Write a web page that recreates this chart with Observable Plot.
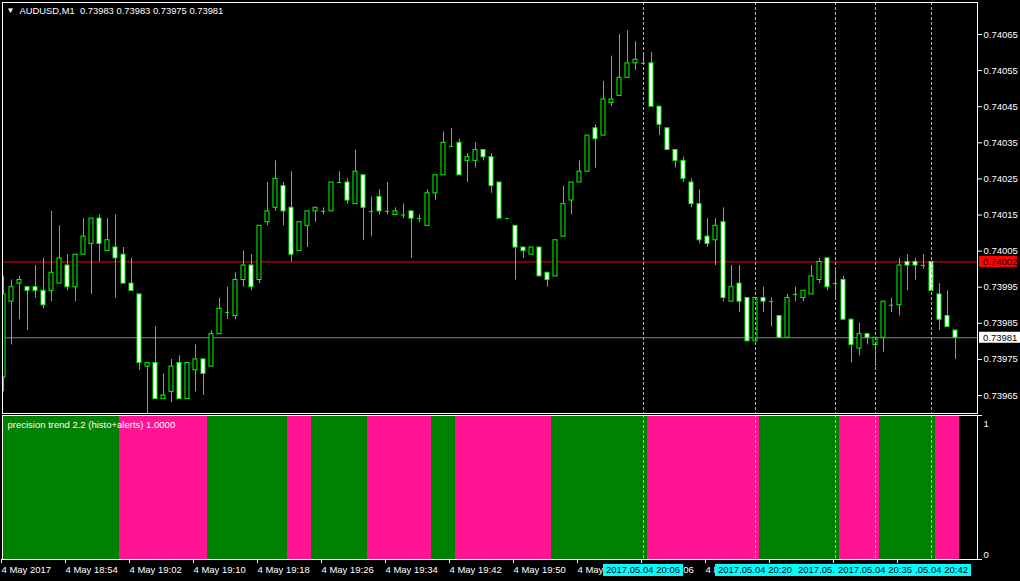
<!DOCTYPE html>
<html><head><meta charset="utf-8">
<script src="https://cdn.jsdelivr.net/npm/d3@7"></script>
<script src="https://cdn.jsdelivr.net/npm/@observablehq/plot@0.6"></script>
<style>
html,body{margin:0;padding:0;background:#000;}
#root{position:relative;width:1020px;height:581px;background:#000;overflow:hidden;}
#root svg{position:absolute;left:0;display:block;}
</style></head><body><div id="root"></div>
<script>
// ---------- data ----------
const symbol = "AUDUSD", timeframe = "M1";
const firstBar = "18:46";           // M1 bars, 4 May 2017
const open = [
0.73970,0.73991,0.73996,0.73995,0.73995,0.73994,0.73994,0.73996,0.74001,0.73995,
0.74004,0.74007,0.74014,0.74005,0.74006,0.74004,0.73996,0.73993,0.73973,0.73974,
0.73964,0.73966,0.73974,0.73964,0.73972,0.73975,0.73973,0.73982,0.73988,0.73987,
0.73997,0.74001,0.73997,0.74013,0.74017,0.74023,0.74017,0.74005,0.74012,0.74016,
0.74016,0.74016,0.74024,0.74024,0.74018,0.74026,0.74016,0.74020,0.74016,0.74015,
0.74015,0.74016,0.74014,0.74012,0.74021,0.74026,0.74034,0.74035,0.74030,0.74030,
0.74033,0.74031,0.74024,0.74014,0.74012,0.74006,0.74004,0.74006,0.73999,0.73998,
0.74009,0.74019,0.74024,0.74027,0.74039,0.74037,0.74046,0.74048,0.74053,0.74057,
0.74057,0.74057,0.74045,0.74039,0.74033,0.74030,0.74024,0.74018,0.74009,0.74008,
0.74013,0.73991,0.73996,0.73992,0.73980,0.73992,0.73991,0.73987,0.73981,0.73993,
0.73992,0.73993,0.73997,0.74003,0.73996,0.73997,0.73986,0.73978,0.73982,0.73979,
0.73981,0.73990,0.73990,0.74002,0.74002,0.74001,0.74002,0.73993,0.73987,0.73983];
const high = [
0.73998,0.73997,0.73998,0.73995,0.74001,0.74003,0.74016,0.74012,0.74004,0.74004,
0.74014,0.74014,0.74015,0.74014,0.74015,0.74006,0.74003,0.73993,0.73974,0.73984,
0.73971,0.73975,0.73976,0.73974,0.73979,0.73975,0.73983,0.73992,0.73995,0.73999,
0.74005,0.74004,0.74012,0.74024,0.74030,0.74024,0.74027,0.74013,0.74016,0.74017,
0.74017,0.74024,0.74027,0.74025,0.74033,0.74026,0.74020,0.74022,0.74024,0.74017,
0.74018,0.74016,0.74015,0.74022,0.74026,0.74038,0.74039,0.74036,0.74032,0.74035,
0.74033,0.74032,0.74024,0.74014,0.74012,0.74006,0.74006,0.74006,0.73999,0.74008,
0.74023,0.74024,0.74030,0.74037,0.74040,0.74052,0.74059,0.74065,0.74066,0.74063,
0.74060,0.74060,0.74045,0.74039,0.74033,0.74031,0.74025,0.74022,0.74014,0.74014,
0.74017,0.74001,0.74001,0.73992,0.73992,0.73995,0.73992,0.73987,0.73993,0.73995,
0.73994,0.74001,0.74003,0.74003,0.74000,0.73998,0.73986,0.73985,0.73982,0.73981,
0.73991,0.73992,0.74003,0.74004,0.74003,0.74004,0.74002,0.73996,0.73994,0.73983];
const low = [
0.73966,0.73979,0.73986,0.73983,0.73992,0.73989,0.73991,0.73996,0.73994,0.73991,
0.74004,0.73993,0.74002,0.74005,0.73992,0.73996,0.73994,0.73972,0.73960,0.73964,
0.73964,0.73963,0.73964,0.73964,0.73966,0.73965,0.73973,0.73982,0.73986,0.73986,
0.73995,0.73994,0.73996,0.74012,0.74016,0.74012,0.74002,0.74005,0.74006,0.74013,
0.74015,0.74016,0.74024,0.74018,0.74018,0.74008,0.74009,0.74015,0.74015,0.74015,
0.74014,0.74003,0.74013,0.74012,0.74019,0.74026,0.74034,0.74026,0.74024,0.74028,
0.74030,0.74021,0.74014,0.74014,0.73997,0.74003,0.74004,0.73998,0.73995,0.73998,
0.74009,0.74015,0.74024,0.74027,0.74028,0.74037,0.74045,0.74048,0.74053,0.74055,
0.74057,0.74045,0.74037,0.74033,0.74028,0.74024,0.74017,0.74007,0.74006,0.74001,
0.73991,0.73991,0.73988,0.73980,0.73980,0.73988,0.73984,0.73981,0.73981,0.73991,
0.73991,0.73993,0.73996,0.73994,0.73992,0.73986,0.73974,0.73976,0.73979,0.73973,
0.73977,0.73988,0.73987,0.73994,0.73997,0.74000,0.73994,0.73983,0.73984,0.73975];
const close = [
0.73993,0.73995,0.73997,0.73994,0.73994,0.73990,0.73999,0.74003,0.73995,0.74004,
0.74009,0.74014,0.74007,0.74008,0.74003,0.73996,0.73994,0.73974,0.73974,0.73964,
0.73965,0.73973,0.73964,0.73974,0.73975,0.73971,0.73982,0.73989,0.73988,0.73997,
0.74001,0.73995,0.74012,0.74016,0.74025,0.74016,0.74004,0.74013,0.74016,0.74017,
0.74016,0.74024,0.74024,0.74019,0.74027,0.74017,0.74016,0.74016,0.74016,0.74016,
0.74015,0.74014,0.74014,0.74021,0.74026,0.74035,0.74034,0.74026,0.74031,0.74033,
0.74031,0.74023,0.74014,0.74014,0.74006,0.74005,0.74006,0.73998,0.73997,0.74008,
0.74018,0.74024,0.74027,0.74037,0.74036,0.74047,0.74047,0.74053,0.74057,0.74058,
0.74057,0.74045,0.74040,0.74033,0.74030,0.74025,0.74018,0.74008,0.74007,0.74012,
0.73992,0.73995,0.73991,0.73980,0.73992,0.73991,0.73991,0.73981,0.73992,0.73993,
0.73994,0.73998,0.74002,0.73995,0.73996,0.73986,0.73979,0.73982,0.73981,0.73981,
0.73991,0.73990,0.74001,0.74001,0.74001,0.74001,0.73994,0.73986,0.73984,0.73981];
// precision trend histogram: 1 = up (green), -1 = down (pink)
const trend = [
 1, 1, 1, 1, 1, 1, 1, 1, 1, 1,
 1, 1, 1, 1, 1,-1,-1,-1,-1,-1,
-1,-1,-1,-1,-1,-1, 1, 1, 1, 1,
 1, 1, 1, 1, 1, 1,-1,-1,-1, 1,
 1, 1, 1, 1, 1, 1,-1,-1,-1,-1,
-1,-1,-1,-1, 1, 1, 1,-1,-1,-1,
-1,-1,-1,-1,-1,-1,-1,-1,-1, 1,
 1, 1, 1, 1, 1, 1, 1, 1, 1, 1,
 1,-1,-1,-1,-1,-1,-1,-1,-1,-1,
-1,-1,-1,-1,-1, 1, 1, 1, 1, 1,
 1, 1, 1, 1, 1,-1,-1,-1,-1,-1,
 1, 1, 1, 1, 1, 1, 1,-1,-1,-1];
const indicatorName = "precision trend 2.2 (histo+alerts)";
const indicatorValue = 1.0;
const askPrice = 0.74002, bidPrice = 0.73981;
const priceTicks = [0.73965,0.73975,0.73985,0.73995,0.74005,0.74015,0.74025,0.74035,0.74045,0.74055,0.74065];
const axisTimes = ["18:46","18:54","19:02","19:10","19:18","19:26","19:34","19:42","19:50","19:58","20:06","20:14","20:22","20:30","20:38"];
// labels of the last three ticks are fully hidden behind the cursor labels in the chart
const axisLabels = ["4 May 2017","4 May 18:54","4 May 19:02","4 May 19:10","4 May 19:18","4 May 19:26","4 May 19:34","4 May 19:42","4 May 19:50","4 May 19:58","4 May 20:06","4 May 20:14","","",""];
const cursorTimes = ["20:06","20:20","20:30","20:42","20:35"];
const cursorLabels = ["2017.05.04 20:06","2017.05.04 20:20","2017.05.04 20:30","2017.05.04 20:42","2017.05.04 20:35"];

// ---------- build ----------
const MIN = 60000;
const at = hm => { const [h, m] = hm.split(":").map(Number); return new Date(Date.UTC(2017, 4, 4, h, m)); };
const t0 = +at(firstBar);
const bars = open.map((o, i) => ({t: new Date(t0 + i * MIN), o, h: high[i], l: low[i], c: close[i], trend: trend[i], v: indicatorValue}));
const xDomain = [new Date(t0 - 0.125 * MIN), new Date(t0 + 121.75 * MIN)];
const half = 0.25 * MIN;
const cursorDates = cursorTimes.map(at);
const axisDates = axisTimes.map(at);
const labelOf = new Map(axisDates.map((d, i) => [+d, axisLabels[i]]));
const fmt5 = d3.format(".5f");
const font = "'Liberation Sans', Arial, sans-serif";
const LIME = "#00ff00", CY = "#33e6e6";
const dash = "3,2";
const style = {background: "#000", color: "#fff", fontFamily: font, fontSize: "9.5px"};

function priceTags(index, scales, values, dims) {
  const g = d3.create("svg:g").attr("text-anchor", "start");
  const x0 = dims.width - dims.marginRight + 2;
  for (const [p, bg, w] of [[askPrice, "#ff0000", 38], [bidPrice, "#ffffff", 41]]) {
    const y = scales.y(p);
    g.append("rect").attr("x", x0).attr("y", y - 5.5).attr("width", w).attr("height", 11).attr("fill", bg);
    g.append("text").attr("x", x0 + 4).attr("y", y).attr("dy", "0.35em").attr("text-anchor", "start").attr("fill", "#000").text(fmt5(p));
  }
  return g.node();
}
function cursorTags(index, scales, values, dims) {
  const g = d3.create("svg:g");
  const yTop = dims.height - dims.marginBottom + 5;
  cursorDates.forEach((d, i) => {
    const xc = scales.x(d);
    g.append("rect").attr("x", xc - 40).attr("y", yTop).attr("width", 80).attr("height", 12).attr("fill", "#00ffff");
    g.append("text").attr("x", xc).attr("y", yTop + 6).attr("dy", "0.35em").attr("text-anchor", "middle").attr("fill", "#000").text(cursorLabels[i]);
  });
  return g.node();
}

const title = `${symbol},${timeframe}  ${fmt5(open.at(-1))} ${fmt5(high.at(-1))} ${fmt5(low.at(-1))} ${fmt5(close.at(-1))}`;

const main = Plot.plot({
  width: 1020, height: 415, marginLeft: 2, marginRight: 43, marginTop: 2, marginBottom: 2,
  style,
  x: {type: "utc", domain: xDomain, axis: null},
  y: {domain: [0.7396002, 0.7407386], axis: null},
  marks: [
    Plot.ruleY([askPrice], {stroke: "#ff0000"}),
    Plot.ruleY([bidPrice], {stroke: "#778899"}),
    Plot.ruleX(bars, {x: "t", y1: "l", y2: "h", stroke: LIME, clip: true}),
    Plot.rect(bars.filter(d => d.c > d.o), {x1: d => new Date(+d.t - half), x2: d => new Date(+d.t + half), y1: "o", y2: "c", fill: "#000", stroke: LIME, clip: true}),
    Plot.rect(bars.filter(d => d.c < d.o), {x1: d => new Date(+d.t - half), x2: d => new Date(+d.t + half), y1: "o", y2: "c", fill: "#fff", stroke: LIME, clip: true}),
    Plot.ruleY(bars.filter(d => d.c === d.o), {y: "o", x1: d => new Date(+d.t - half), x2: d => new Date(+d.t + half), stroke: LIME, clip: true}),
    Plot.ruleX(cursorDates, {stroke: CY, strokeDasharray: dash}),
    Plot.frame({stroke: "#fff"}),
    Plot.axisY({anchor: "right", ticks: priceTicks, tickSize: 4, tickPadding: 2, tickFormat: fmt5, label: null}),
    priceTags,
    Plot.text(["\u25BC"], {frameAnchor: "top-left", dx: 4, dy: 5, fontSize: 8, fill: "#fff"}),
    Plot.text([title], {frameAnchor: "top-left", dx: 17, dy: 5, fontSize: 9.4, fill: "#fff"})
  ]
});
main.style.top = "0px";

const ind = Plot.plot({
  width: 1020, height: 166, marginLeft: 2, marginRight: 43, marginTop: 0, marginBottom: 22,
  style,
  x: {type: "utc", domain: xDomain, axis: null},
  y: {domain: [0, 1], axis: null},
  marks: [
    Plot.rect(bars.filter(d => d.trend > 0), {x1: d => new Date(+d.t - 2 * half), x2: d => new Date(+d.t + 2 * half), y1: 0, y2: "v", fill: "#008000", clip: true}),
    Plot.rect(bars.filter(d => d.trend < 0), {x1: d => new Date(+d.t - 2 * half), x2: d => new Date(+d.t + 2 * half), y1: 0, y2: "v", fill: "#ff1493", clip: true}),
    Plot.ruleX(cursorDates, {stroke: CY, strokeDasharray: dash}),
    Plot.frame({stroke: "#fff"}),
    Plot.axisY({anchor: "right", ticks: [0, 1], tickSize: 4, tickFormat: () => "", label: null}),
    Plot.text([1], {y: d => d, text: d => String(d), frameAnchor: "right", textAnchor: "start", dx: 6, dy: 8, fill: "#fff"}),
    Plot.text([0], {y: d => d, text: d => String(d), frameAnchor: "right", textAnchor: "start", dx: 6, dy: -5, fill: "#fff"}),
    Plot.axisX({ticks: axisDates, tickFormat: d => labelOf.get(+d), tickSize: 4, tickPadding: 3, textAnchor: "start", dx: -2, label: null}),
    cursorTags,
    Plot.text([`${indicatorName} ${d3.format(".4f")(indicatorValue)}`], {frameAnchor: "top-left", dx: 5, dy: 6, fill: "#fff"})
  ]
});
ind.style.top = "415px";

document.getElementById("root").append(main, ind);
</script>
</body></html>
